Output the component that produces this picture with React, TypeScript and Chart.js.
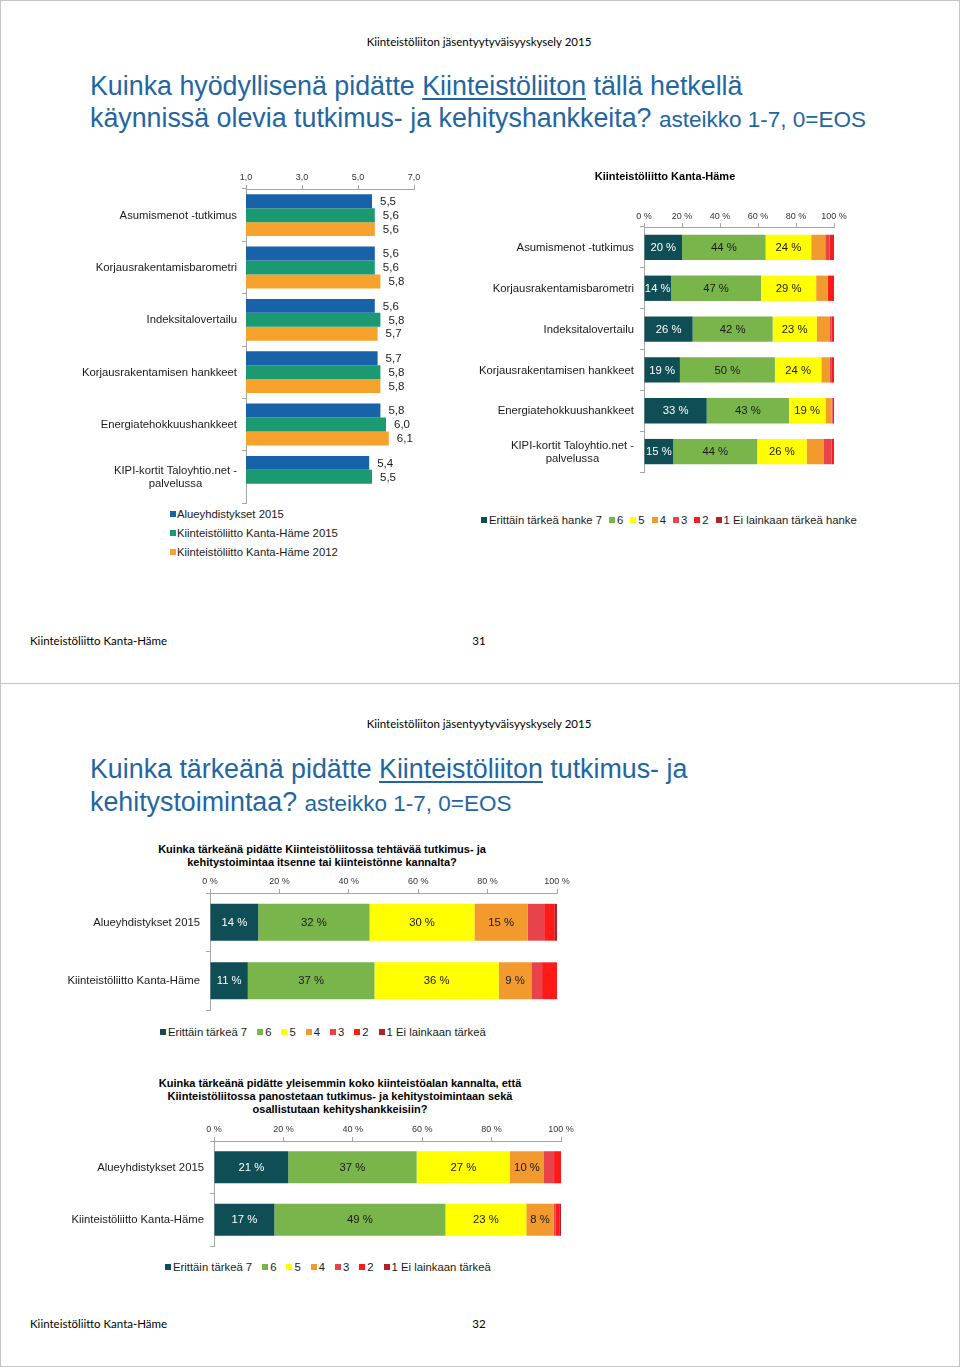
import React, { useEffect, useRef } from 'react';
import { Chart, registerables } from 'chart.js';

const FONT = '"Liberation Sans", Arial, Helvetica, sans-serif';
const CAL = 'Lato, "Open Sans", sans-serif';
const TITLE_BLUE = '#1F66A2';

// ---------- Chart 1: mean usefulness (scale 1-7) ----------
const projectCategories: (string | string[])[] = [
  'Asumismenot -tutkimus',
  'Korjausrakentamisbarometri',
  'Indeksitalovertailu',
  'Korjausrakentamisen hankkeet',
  'Energiatehokkuushankkeet',
  ['KIPI-kortit Taloyhtio.net -', 'palvelussa'],
];
const meanAlue2015 = [5.5, 5.6, 5.6, 5.7, 5.8, 5.4];
const meanKH2015 = [5.6, 5.6, 5.8, 5.8, 6.0, 5.5];
const meanKH2012 = [5.6, 5.8, 5.7, 5.8, 6.1, null];
const meanSeriesNames = ['Alueyhdistykset 2015', 'Kiinteistöliitto Kanta-Häme 2015', 'Kiinteistöliitto Kanta-Häme 2012'];
const meanColors = ['#1762A8', '#1B9A72', '#F7A22C'];
const meanTickValues = [1, 3, 5, 7];

// ---------- Chart 2: distribution, Kanta-Häme (7 .. 1) ----------
const khAsumismenot = [20, 44, 24, 7.4, 2.3, 2.3, 0];
const khBarometri = [14.2, 47.4, 29, 6.1, 0, 3.3, 0];
const khIndeksi = [25.6, 42.1, 23.2, 7, 0.9, 1.2, 0];
const khKorjausHankkeet = [18.9, 50, 24.4, 4.5, 1.1, 1.1, 0];
const khEnergia = [33, 43.3, 19.2, 3.3, 0.4, 0.8, 0];
const khKipi = [15.4, 44.2, 26, 8.8, 4.4, 1.2, 0];
const projectSeriesNames = ['Erittäin tärkeä hanke 7', '6', '5', '4', '3', '2', '1 Ei lainkaan tärkeä hanke'];

// ---------- Chart 3 & 4 ----------
const groupCategories = ['Alueyhdistykset 2015', 'Kiinteistöliitto Kanta-Häme'];
const ownAlue2015 = [13.9, 32.1, 30.2, 15.4, 4.7, 2.9, 0.8];
const ownKantaHame = [10.9, 36.5, 35.8, 9.4, 3.1, 4.3, 0];
const sectorAlue2015 = [21.4, 37, 26.9, 9.8, 2.9, 2.0, 0];
const sectorKantaHame = [17.4, 49.3, 23.3, 7.9, 0.6, 1.0, 0.5];
const importanceSeriesNames = ['Erittäin tärkeä 7', '6', '5', '4', '3', '2', '1 Ei lainkaan tärkeä'];

const stackColors = ['#0E4E54', '#7AB54C', '#FFFF00', '#F39A2E', '#E8434B', '#FF1A1A', '#B42028'];
const percentTickValues = [0, 20, 40, 60, 80, 100];

// ---------- plugins ----------
const catLabels = {
  id: 'catLabels',
  afterDraw(chart: any, _args: any, opts: any) {
    if (!opts || !opts.on) return;
    const yScale = chart.scales.y;
    const ctx = chart.ctx;
    ctx.save();
    ctx.font = `${opts.size || 11.3}px ${FONT}`;
    ctx.fillStyle = '#1a1a1a';
    ctx.textBaseline = 'middle';
    ctx.textAlign = 'center';
    const right = chart.chartArea.left - (opts.gap ?? 10);
    const lh = opts.lineHeight || 13;
    (chart.data.labels as any[]).forEach((lab, i) => {
      const yc = yScale.getPixelForValue(i);
      const lines: string[] = Array.isArray(lab) ? lab : [lab];
      const widest = Math.max(...lines.map((l) => ctx.measureText(l).width));
      const cx = right - widest / 2;
      lines.forEach((l, k) => {
        ctx.fillText(l, cx, yc + 0.5 + (k - (lines.length - 1) / 2) * lh);
      });
    });
    ctx.restore();
  },
};

const valueLabels = {
  id: 'valueLabels',
  afterDatasetsDraw(chart: any, _args: any, opts: any) {
    if (!opts || !opts.mode) return;
    const ctx = chart.ctx;
    ctx.save();
    ctx.textBaseline = 'middle';
    chart.data.datasets.forEach((ds: any, di: number) => {
      const meta = chart.getDatasetMeta(di);
      meta.data.forEach((bar: any, i: number) => {
        const v = ds.data[i];
        if (v == null || v === 0) return;
        const { x, y, base } = bar.getProps(['x', 'y', 'base'], true);
        if (opts.mode === 'end') {
          ctx.font = `11.5px ${FONT}`;
          ctx.textAlign = 'left';
          ctx.fillStyle = '#1a1a1a';
          ctx.fillText(v.toFixed(1).replace('.', ','), x + 8, y + 0.5);
        } else {
          ctx.font = `11.3px ${FONT}`;
          const text = Math.round(v) + ' %';
          const w = Math.abs(x - base);
          if (ctx.measureText(text).width > w) return;
          ctx.textAlign = 'center';
          ctx.fillStyle = di === 0 ? '#ffffff' : '#1a1a1a';
          ctx.fillText(text, (x + base) / 2, y + 0.5);
        }
      });
    });
    ctx.restore();
  },
};

Chart.register(...registerables, catLabels, valueLabels);

// ---------- config builders ----------
function axisX(min: number, max: number, tickValues: number[], fmt: (v: number) => string, xHeight: number, pad: number) {
  return {
    type: 'linear',
    position: 'top',
    min,
    max,
    afterBuildTicks: (s: any) => {
      s.ticks = tickValues.map((v) => ({ value: v }));
    },
    ticks: {
      callback: (v: any) => fmt(Number(v)),
      font: { family: FONT, size: 9 },
      color: '#333333',
      padding: pad,
      maxRotation: 0,
      autoSkip: false,
    },
    grid: { drawOnChartArea: false, tickLength: 4, color: '#a6a6a6' },
    border: { color: '#a6a6a6' },
    afterFit: (s: any) => {
      s.height = xHeight;
    },
  };
}

function axisY(yWidth: number, stacked: boolean) {
  return {
    type: 'category',
    stacked,
    grid: { drawOnChartArea: false, tickLength: 4, color: '#a6a6a6', offset: true },
    border: { color: '#a6a6a6' },
    ticks: { display: false },
    afterFit: (s: any) => {
      s.width = yWidth;
    },
  };
}

function meanConfig() {
  const series = [meanAlue2015, meanKH2015, meanKH2012];
  return {
    type: 'bar',
    data: {
      labels: projectCategories,
      datasets: series.map((d, k) => ({
        label: meanSeriesNames[k],
        data: d,
        backgroundColor: meanColors[k],
        categoryPercentage: 0.8,
        barPercentage: 1,
        borderWidth: 0,
      })),
    },
    options: {
      indexAxis: 'y',
      responsive: false,
      animation: false,
      layout: { padding: { left: 0, top: 0, right: 26, bottom: 1 } },
      plugins: {
        legend: { display: false },
        tooltip: { enabled: false },
        catLabels: { on: true, gap: 9 },
        valueLabels: { mode: 'end' },
      },
      scales: {
        x: axisX(1, 7, meanTickValues, (v) => v.toFixed(1).replace('.', ','), 29, 2),
        y: axisY(186, false),
      },
    },
  };
}

function stackConfig(
  labels: (string | string[])[],
  rows: number[][],
  names: string[],
  o: { yWidth: number; xHeight: number; padRight: number; padBottom: number; catPct: number; tickPad: number }
) {
  return {
    type: 'bar',
    data: {
      labels,
      datasets: names.map((n, k) => ({
        label: n,
        data: rows.map((r) => r[k]),
        backgroundColor: stackColors[k],
        categoryPercentage: o.catPct,
        barPercentage: 1,
        borderWidth: 0,
      })),
    },
    options: {
      indexAxis: 'y',
      responsive: false,
      animation: false,
      layout: { padding: { left: 0, top: 0, right: o.padRight, bottom: o.padBottom } },
      plugins: {
        legend: { display: false },
        tooltip: { enabled: false },
        catLabels: { on: true, gap: 10 },
        valueLabels: { mode: 'inside' },
      },
      scales: {
        x: { ...axisX(0, 100, percentTickValues, (v) => `${v} %`, o.xHeight, o.tickPad), stacked: true },
        y: axisY(o.yWidth, true),
      },
    },
  };
}

// ---------- components ----------
function ChartBox({ left, top, width, height, config }: { left: number; top: number; width: number; height: number; config: any }) {
  const ref = useRef<HTMLCanvasElement>(null);
  useEffect(() => {
    const chart = new Chart(ref.current as HTMLCanvasElement, config);
    return () => chart.destroy();
  }, []);
  return (
    <canvas
      ref={ref}
      width={width}
      height={height}
      style={{ position: 'absolute', left, top, width, height, display: 'block' }}
    />
  );
}

function Legend({ names, colors, left, top, vertical, gap }: { names: string[]; colors: string[]; left: number; top: number; vertical?: boolean; gap?: number }) {
  return (
    <div
      style={{
        position: 'absolute',
        left,
        top,
        display: 'flex',
        flexDirection: vertical ? 'column' : 'row',
        gap: vertical ? 5 : gap ?? 7,
        font: `11.3px ${FONT}`,
        color: '#1a1a1a',
        whiteSpace: 'nowrap',
        lineHeight: '14px',
      }}
    >
      {names.map((n, k) => (
        <div key={k} style={{ display: 'flex', alignItems: 'center' }}>
          <span style={{ width: 6, height: 6, background: colors[k], display: 'inline-block', marginRight: vertical ? 1 : 2 }} />
          <span>{n}</span>
        </div>
      ))}
    </div>
  );
}

function Abs({ left, top, children, style }: { left: number; top: number; children: any; style?: any }) {
  return <div style={{ position: 'absolute', left, top, whiteSpace: 'nowrap', ...style }}>{children}</div>;
}

function Centered({ cx, top, children, style }: { cx: number; top: number; children: any; style?: any }) {
  return (
    <div style={{ position: 'absolute', left: cx - 300, width: 600, top, textAlign: 'center', whiteSpace: 'nowrap', ...style }}>
      {children}
    </div>
  );
}

function TitleLine({ top, children }: { top: number; children: any }) {
  return (
    <div
      style={{
        position: 'absolute',
        left: 90,
        top,
        whiteSpace: 'nowrap',
        font: `26.8px ${FONT}`,
        lineHeight: '32px',
        color: TITLE_BLUE,
      }}
    >
      {children}
    </div>
  );
}

const small = { fontSize: 22.5 };
const uline = { textDecoration: 'underline', textDecorationThickness: '2px', textUnderlineOffset: '3px' };

export default function App() {
  const slideBox = (top: number) => ({
    position: 'absolute' as const,
    left: 0,
    top,
    width: 960,
    height: 684,
    border: '1px solid #c4c4c4',
    boxSizing: 'border-box' as const,
    background: '#fff',
  });
  const header = { font: `11.5px ${CAL}`, color: '#000', lineHeight: '14px' };
  const chartTitle = { font: `bold 11px ${FONT}`, color: '#000', lineHeight: '13px' };

  return (
    <div style={{ position: 'absolute', left: 0, top: 0, width: 960, height: 1367, background: '#fff', overflow: 'hidden' }}>
      <div style={slideBox(0)} />
      <div style={slideBox(683)} />

      {/* Slide 1 */}
      <Centered cx={479} top={35} style={header}>Kiinteistöliiton jäsentyytyväisyyskysely 2015</Centered>
      <TitleLine top={70}>
        Kuinka hyödyllisenä pidätte <span style={uline}>Kiinteistöliiton</span> tällä hetkellä
      </TitleLine>
      <TitleLine top={102}>
        käynnissä olevia tutkimus- ja kehityshankkeita? <span style={small}>asteikko 1-7, 0=EOS</span>
      </TitleLine>

      <ChartBox left={60} top={160} width={380} height={344} config={meanConfig()} />
      <Legend names={meanSeriesNames} colors={meanColors} left={170} top={507} vertical />

      <Centered cx={665} top={170} style={chartTitle}>Kiinteistöliitto Kanta-Häme</Centered>
      <ChartBox
        left={470}
        top={200}
        width={380}
        height={275}
        config={stackConfig(
          projectCategories,
          [khAsumismenot, khBarometri, khIndeksi, khKorjausHankkeet, khEnergia, khKipi],
          projectSeriesNames,
          { yWidth: 174, xHeight: 27, padRight: 16, padBottom: 3, catPct: 0.62, tickPad: 1 }
        )}
      />
      <Legend names={projectSeriesNames} colors={stackColors} left={481} top={513} gap={7} />

      <Abs left={30} top={634} style={header}>Kiinteistöliitto Kanta-Häme</Abs>
      <Centered cx={479} top={634} style={header}>31</Centered>

      {/* Slide 2 */}
      <Centered cx={479} top={717} style={header}>Kiinteistöliiton jäsentyytyväisyyskysely 2015</Centered>
      <TitleLine top={753}>
        Kuinka tärkeänä pidätte <span style={uline}>Kiinteistöliiton</span> tutkimus- ja
      </TitleLine>
      <TitleLine top={786}>
        kehitystoimintaa? <span style={small}>asteikko 1-7, 0=EOS</span>
      </TitleLine>

      <Centered cx={322} top={843} style={chartTitle}>
        Kuinka tärkeänä pidätte Kiinteistöliitossa tehtävää tutkimus- ja
        <br />
        kehitystoimintaa itsenne tai kiinteistönne kannalta?
      </Centered>
      <ChartBox
        left={60}
        top={870}
        width={520}
        height={145}
        config={stackConfig(groupCategories, [ownAlue2015, ownKantaHame], importanceSeriesNames, {
          yWidth: 150,
          xHeight: 23,
          padRight: 23,
          padBottom: 5,
          catPct: 0.63,
          tickPad: 2,
        })}
      />
      <Legend names={importanceSeriesNames} colors={stackColors} left={160} top={1025} gap={10} />

      <Centered cx={340} top={1077} style={chartTitle}>
        Kuinka tärkeänä pidätte yleisemmin koko kiinteistöalan kannalta, että
        <br />
        Kiinteistöliitossa panostetaan tutkimus- ja kehitystoimintaan sekä
        <br />
        osallistutaan kehityshankkeisiin?
      </Centered>
      <ChartBox
        left={60}
        top={1118}
        width={520}
        height={132}
        config={stackConfig(groupCategories, [sectorAlue2015, sectorKantaHame], importanceSeriesNames, {
          yWidth: 154,
          xHeight: 23,
          padRight: 19,
          padBottom: 4,
          catPct: 0.61,
          tickPad: 2,
        })}
      />
      <Legend names={importanceSeriesNames} colors={stackColors} left={165} top={1260} gap={10} />

      <Abs left={30} top={1317} style={header}>Kiinteistöliitto Kanta-Häme</Abs>
      <Centered cx={479} top={1317} style={header}>32</Centered>
    </div>
  );
}
